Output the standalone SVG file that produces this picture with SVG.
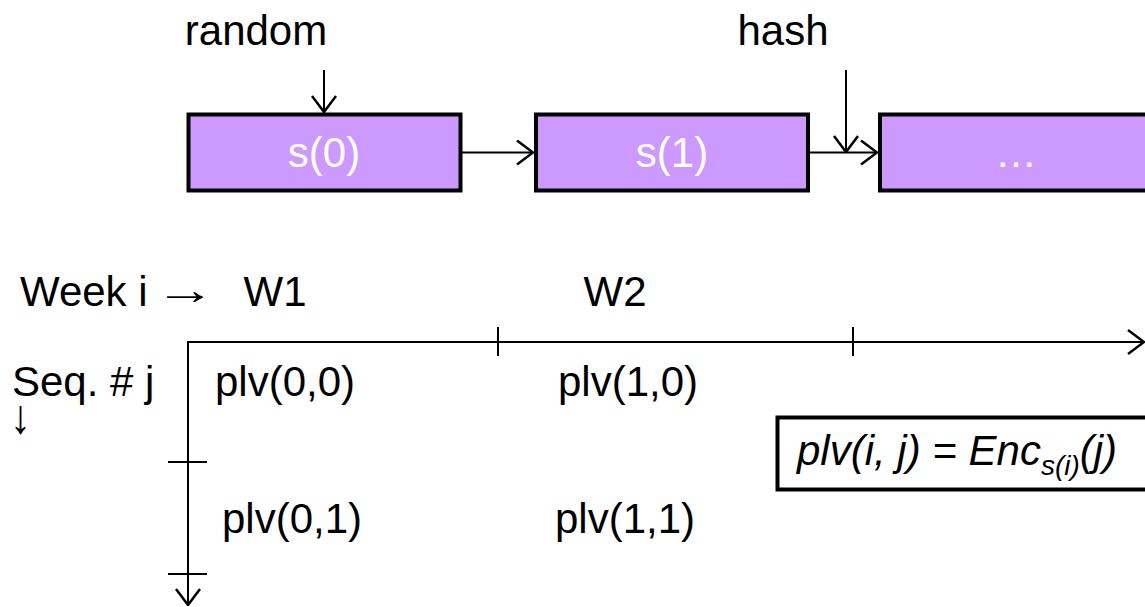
<svg xmlns="http://www.w3.org/2000/svg" width="1145" height="607" viewBox="0 0 1145 607">
<defs>
<style>
text{font-family:"Liberation Sans",Arial,sans-serif;font-size:42px;fill:#000}
.box{fill:#cc99ff;stroke:#000;stroke-width:4}
.bt{fill:#fff;text-anchor:middle}
.ln{stroke:#000;stroke-width:2;fill:none}
.it{font-style:italic}
</style>
<marker id="ah" viewBox="0 0 18 26" refX="17" refY="13" markerWidth="18" markerHeight="26" markerUnits="userSpaceOnUse" orient="auto">
<path d="M1,1 L17,13 L1,25" fill="none" stroke="#000" stroke-width="2.5"/>
</marker>
</defs>
<g id="label-random"><text x="256" y="45" text-anchor="middle">random</text></g>
<g id="label-hash"><text x="783" y="45" text-anchor="middle">hash</text></g>
<g id="node-s0"><rect class="box" x="188.5" y="114.5" width="272" height="76"/><text class="bt" x="324" y="167">s(0)</text></g>
<g id="node-s1"><rect class="box" x="536" y="114.5" width="272" height="76"/><text class="bt" x="672" y="167">s(1)</text></g>
<g id="node-s2"><rect class="box" x="880" y="114.5" width="272" height="76"/><text class="bt" x="1016" y="167">…</text></g>
<g id="connectors">
<line class="ln" x1="324" y1="70" x2="324" y2="112" marker-end="url(#ah)"/>
<line class="ln" x1="462" y1="152.5" x2="533" y2="152.5" marker-end="url(#ah)"/>
<line class="ln" x1="810" y1="152.5" x2="877" y2="152.5" marker-end="url(#ah)"/>
<line class="ln" x1="846" y1="70" x2="846" y2="152" marker-end="url(#ah)"/>
</g>
<g id="axes">
<line class="ln" x1="188" y1="342" x2="1144" y2="342" marker-end="url(#ah)"/>
<line class="ln" x1="188" y1="341" x2="188" y2="605" marker-end="url(#ah)"/>
<line class="ln" x1="498" y1="327" x2="498" y2="356"/>
<line class="ln" x1="853" y1="327" x2="853" y2="356"/>
<line class="ln" x1="168" y1="462" x2="207" y2="462"/>
<line class="ln" x1="168" y1="574" x2="207" y2="574"/>
</g>
<g id="labels">
<text x="20" y="306">Week i</text>
<text transform="translate(155,304) scale(1.45,1)">→</text>
<text x="275" y="306" text-anchor="middle">W1</text>
<text x="615" y="306" text-anchor="middle">W2</text>
<text x="12" y="396">Seq. # j</text>
<text transform="translate(10,433) scale(1,1.15)">↓</text>
<text x="215" y="396">plv(0,0)</text>
<text x="558" y="396">plv(1,0)</text>
<text x="222" y="533">plv(0,1)</text>
<text x="555" y="533">plv(1,1)</text>
</g>
<g id="formula">
<rect x="777.5" y="417.5" width="380" height="72" fill="#fff" stroke="#000" stroke-width="4"/>
<text class="it" x="797" y="465">plv(i, j) = Enc<tspan font-size="28" dy="10">s(i)</tspan><tspan dy="-10">(j)</tspan></text>
</g>
</svg>
